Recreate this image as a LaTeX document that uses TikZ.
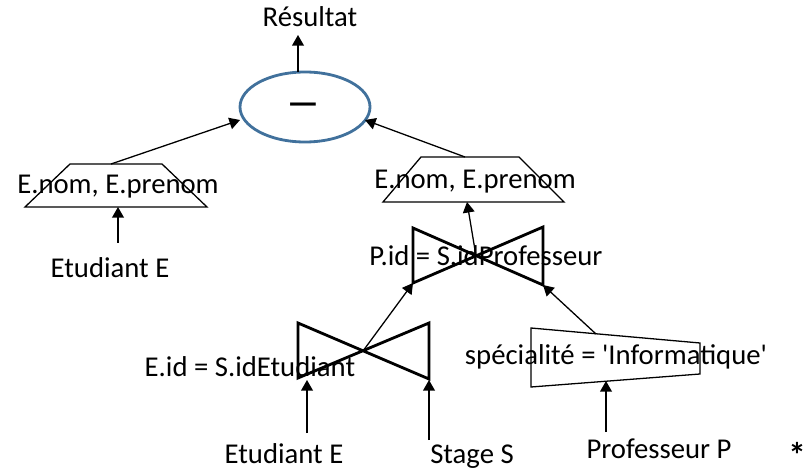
\documentclass[tikz,border=0pt]{standalone}
\usepackage{fontspec}
\setmainfont{Carlito}[Ligatures=TeXOff]
\usepackage{tkz-euclide}
\usetikzlibrary{arrows.meta,shapes.geometric}
\tikzset{
  lbl/.style={font=\fontsize{24.5}{28}\selectfont,inner sep=0pt},
  fleche/.style={line width=1.1pt,-{Triangle[width=10pt,length=9pt]}},
  trait/.style={line width=1.1pt},
  jointure/.style={line width=2.4pt,line join=miter},
}
\definecolor{bleuop}{HTML}{41719C}

\begin{document}
\begin{tikzpicture}[x=0.03cm,y=0.03cm]
\useasboundingbox (0,0) rectangle (804,468);
% operateur difference
\tkzDefPoints{305/361/O,310/451/R,298/433/Rt,298/396/Rb,240/348/Lt,365/348/Dt}
% projection gauche
\tkzDefPoints{70/304/A1,162/304/A2,207/261/A3,25/261/A4,111/304/Ah,118/281/Pa,
118/225/Ef,118/261/Et,110/200/Ea}
% projection droite
\tkzDefPoints{421/311/B1,519/311/B2,564/266/B3,383/266/B4,465/311/Bh,475/286/Pb,467/266/Bt}
% jointure haute (X = croisement)
\tkzDefPoints{413/240/J1,413/185/J2,543/241/J3,543/183/J4,476/212/X,486/212/Pj}
% jointure basse (Y = croisement)
\tkzDefPoints{298/145/K1,298/90/K2,429/145/K3,429/89/K4,363/117/Y,250/101/Pk}
\tkzDefPoints{307/35/Uf,307/88/Ut,429/28/Vf,429/88/Vt,284/5/Ua,472/5/Va}
% selection
\tkzDefPoints{531/140/S1,700/125/S2,700/94/S3,531/81/S4,596/134/Sh,616/111/Ps,
606/36/Wf,606/87/Wt,659/10/Wa,797/1/Z}

\node[ellipse,draw=bleuop,line width=2.4pt,minimum width=3.9cm,minimum height=2.1cm,
inner sep=0pt] (diff) at (O) {};
\node[lbl,font=\fontsize{30}{30}\selectfont\bfseries] (moins) at (303,359) {—};
\node[lbl] (res) at (R) {Résultat};
\draw[fleche] (Rb)--(Rt);

\draw[trait] (A1)--(A2)--(A3)--(A4)--cycle;
\node[lbl] (projA) at (Pa) {E.nom, E.prenom};
\draw[fleche] (Ah)--(Lt);
\node[lbl] (etuA) at (Ea) {Etudiant E};
\draw[fleche] (Ef)--(Et);

\draw[trait] (B1)--(B2)--(B3)--(B4)--cycle;
\node[lbl] (projB) at (Pb) {E.nom, E.prenom};
\draw[fleche] (Bh)--(Dt);
\draw[fleche] (X)--(Bt);

\draw[jointure] (J1)--(J4)--(J3)--(J2)--cycle;
\node[lbl] (joinP) at (Pj) {P.id = S.idProfesseur};
\draw[fleche] (Y)--(J2);
\draw[fleche] (Sh)--(J4);

\draw[jointure] (K1)--(K4)--(K3)--(K2)--cycle;
\node[lbl] (joinE) at (Pk) {E.id = S.idEtudiant};
\node[lbl,anchor=base] (etuB) at (Ua) {Etudiant E};
\node[lbl,anchor=base] (stage) at (Va) {Stage S};
\draw[fleche] (Uf)--(Ut);
\draw[fleche] (Vf)--(Vt);

\draw[trait] (S1)--(S2)--(S3)--(S4)--cycle;
\node[lbl] (sel) at (Ps) {spécialité = 'Informatique'};
\node[lbl,anchor=base] (prof) at (Wa) {Professeur P};
\draw[fleche] (Wf)--(Wt);
\node[lbl,anchor=base,font=\fontsize{30}{30}\selectfont\bfseries] (etoile) at (Z) {*};
\end{tikzpicture}
\end{document}
